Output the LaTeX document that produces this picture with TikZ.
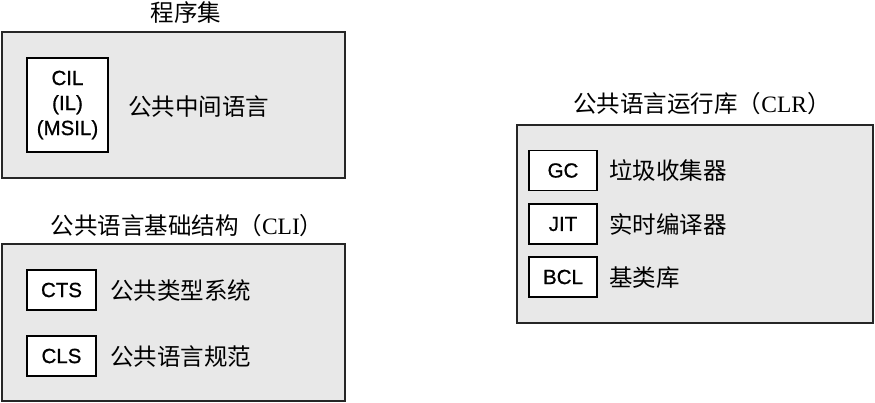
\documentclass[tikz,border=0pt]{standalone}
\usepackage{fontspec}
\setmainfont{Liberation Serif}
\newfontfamily\cjk{Noto Sans CJK SC}
\newfontfamily\hel[FakeBold=0.8]{Liberation Sans}
\begin{document}
\begin{tikzpicture}[x=1pt,y=-1pt,
  grp/.style={draw=black!85, line width=1.6pt, fill=black!9},
  lbox/.style={draw=black, line width=1.5pt, fill=white, inner sep=0pt,
    font=\hel\fontsize{20.5}{25}\selectfont, align=center},
  ttl/.style={font=\cjk\fontsize{23.5}{27}\selectfont, inner sep=0pt},
  desc/.style={font=\cjk\fontsize{23.5}{27}\selectfont, inner sep=0pt, anchor=west}]
\useasboundingbox (0,0) rectangle (875,402);
% group 1
\node[ttl] (t1) at (186,13) {程序集};
\draw[grp] (2,32) rectangle (345,178);
\node[lbox, minimum width=81, minimum height=94] (cil) at (67.5,105) {CIL\\(IL)\\(MSIL)};
\node[desc] (d1) at (128,107) {公共中间语言};
% group 2
\node[ttl] (t2) at (187,226) {公共语言基础结构（{\rmfamily CLI}）};
\draw[grp] (2,244) rectangle (345,401);
\node[lbox, minimum width=69, minimum height=40] (cts) at (61.5,290) {CTS};
\node[desc] (d2) at (110,291) {公共类型系统};
\node[lbox, minimum width=69, minimum height=40] (cls) at (61.5,356) {CLS};
\node[desc] (d3) at (110,357) {公共语言规范};
% group 3
\node[ttl] (t3) at (702,104) {公共语言运行库（{\rmfamily CLR}）};
\draw[grp] (517,125) rectangle (873,323);
\node[lbox, minimum width=68, minimum height=40] (gc) at (563,170.5) {GC};
\node[desc] (d4) at (609,171) {垃圾收集器};
\node[lbox, minimum width=68, minimum height=40] (jit) at (563,224) {JIT};
\node[desc] (d5) at (609,225) {实时编译器};
\node[lbox, minimum width=68, minimum height=40] (bcl) at (563,277) {BCL};
\node[desc] (d6) at (609,278) {基类库};
\end{tikzpicture}
\end{document}
